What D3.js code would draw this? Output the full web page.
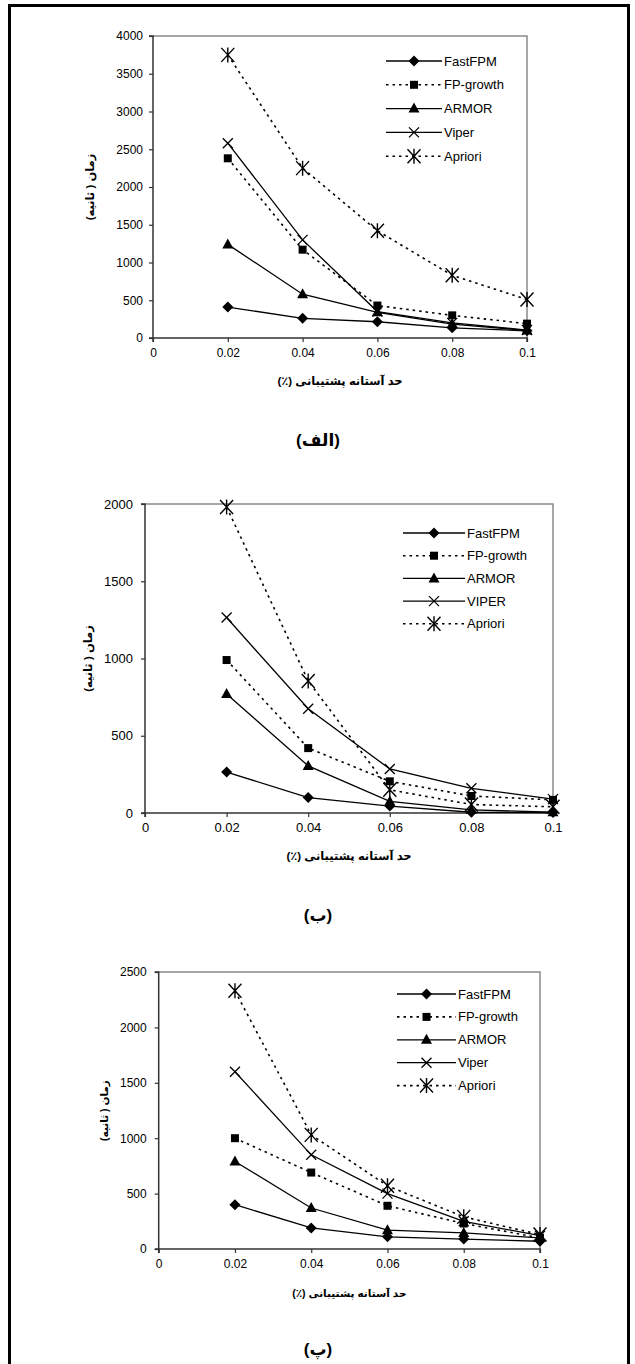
<!DOCTYPE html>
<html><head><meta charset="utf-8">
<script src="https://cdnjs.cloudflare.com/ajax/libs/d3/7.8.5/d3.min.js"></script>
<style>
html,body{margin:0;padding:0;background:#fff;}
svg{display:block;}
text{font-family:"Liberation Sans","DejaVu Sans",Arial,sans-serif;fill:#000;}
</style></head>
<body>
<svg id="chart" width="635" height="1364"></svg>
<script>
// ---- data ----
const xValues = [0.02, 0.04, 0.06, 0.08, 0.1];
const xTicks = [0, 0.02, 0.04, 0.06, 0.08, 0.1];
const xTickLabels = ["0", "0.02", "0.04", "0.06", "0.08", "0.1"];
const seriesNamesA = ["FastFPM", "FP-growth", "ARMOR", "Viper", "Apriori"];
const seriesNamesB = ["FastFPM", "FP-growth", "ARMOR", "VIPER", "Apriori"];
const seriesNamesC = ["FastFPM", "FP-growth", "ARMOR", "Viper", "Apriori"];

const fastfpmA = [410, 260, 215, 135, 95];
const fpgrowthA = [2380, 1170, 430, 300, 190];
const armorA = [1240, 580, 340, 185, 100];
const viperA = [2580, 1300, 350, 200, 105];
const aprioriA = [3750, 2250, 1420, 830, 510];
const yTicksA = [0, 500, 1000, 1500, 2000, 2500, 3000, 3500, 4000];

const fastfpmB = [265, 100, 45, 5, 3];
const fpgrowthB = [990, 420, 205, 110, 85];
const armorB = [770, 305, 75, 20, 5];
const viperB = [1265, 675, 285, 160, 90];
const aprioriB = [1980, 855, 150, 55, 40];
const yTicksB = [0, 500, 1000, 1500, 2000];

const fastfpmC = [400, 190, 110, 90, 70];
const fpgrowthC = [1000, 690, 390, 230, 100];
const armorC = [790, 370, 170, 145, 100];
const viperC = [1600, 850, 500, 250, 120];
const aprioriC = [2330, 1030, 570, 290, 130];
const yTicksC = [0, 500, 1000, 1500, 2000, 2500];

const yTitle = "زمان ( ثانیه)";
const xTitle = "حد آستانه پشتیبانی (٪)";
const captions = ["(الف)", "(ب)", "(پ)"];

// ---- styles per series (order: FastFPM, FP-growth, ARMOR, Viper, Apriori)
const seriesStyle = [
  {marker: "diamond", dash: null},
  {marker: "square", dash: "2.5,4"},
  {marker: "triangle", dash: null},
  {marker: "x", dash: null},
  {marker: "star", dash: "2.5,4"}
];

const svg = d3.select("#chart");

// outer frame
svg.append("path")
  .attr("d", "M9.5,1364V5.5H628.5V1364")
  .attr("fill", "none").attr("stroke", "#000").attr("stroke-width", 3);

function drawMarker(g, type, x, y) {
  if (type === "diamond") {
    g.append("path").attr("d", `M${x},${y-5.5}L${x+5.5},${y}L${x},${y+5.5}L${x-5.5},${y}Z`).attr("fill", "#000");
  } else if (type === "square") {
    g.append("rect").attr("x", x-4).attr("y", y-4).attr("width", 8).attr("height", 8).attr("fill", "#000");
  } else if (type === "triangle") {
    g.append("path").attr("d", `M${x},${y-6}L${x+5.5},${y+4}L${x-5.5},${y+4}Z`).attr("fill", "#000");
  } else if (type === "x") {
    g.append("path").attr("d", `M${x-5},${y-5}L${x+5},${y+5}M${x+5},${y-5}L${x-5},${y+5}`)
      .attr("stroke", "#000").attr("stroke-width", 1.3).attr("fill", "none");
  } else if (type === "star") {
    g.append("path").attr("d", `M${x-6.5},${y-7}L${x+6.5},${y+7}M${x+6.5},${y-7}L${x-6.5},${y+7}M${x},${y-7.5}L${x},${y+7.5}`)
      .attr("stroke", "#000").attr("stroke-width", 1.4).attr("fill", "none");
  }
}

function drawChart(cfg, series, names, yTicks, yMax, caption) {
  const g = svg.append("g");
  const x = d3.scaleLinear().domain([0, 0.1]).range([cfg.x0, cfg.x1]);
  const y = d3.scaleLinear().domain([0, yMax]).range([cfg.y0, cfg.y1]);

  // top & right frame lines (gray)
  g.append("path")
    .attr("d", `M${cfg.x0},${cfg.y1}H${cfg.x1}V${cfg.y0}`)
    .attr("fill", "none").attr("stroke", "#8a8a8a").attr("stroke-width", 1.5);

  // y axis
  const yAxis = d3.axisLeft(y).tickValues(yTicks).tickSize(4).tickPadding(cfg.yPad).tickFormat(d3.format("d"));
  const ya = g.append("g").attr("transform", `translate(${cfg.x0},0)`).call(yAxis);
  ya.select(".domain").attr("stroke", "#333").attr("stroke-width", 1.5).attr("d", `M-4,${cfg.y1}H0V${cfg.y0}H-4`);
  ya.selectAll(".tick line").attr("stroke", "#333").attr("stroke-width", 1.2);
  ya.selectAll(".tick text").attr("font-size", cfg.tickFont).attr("font-family", "Liberation Sans, Arial, sans-serif").attr("fill", "#000");

  // x axis
  const xAxis = d3.axisBottom(x).tickValues(xTicks).tickSize(4).tickPadding(cfg.xPad)
    .tickFormat((d, i) => xTickLabels[i]);
  const xa = g.append("g").attr("transform", `translate(0,${cfg.y0})`).call(xAxis);
  xa.select(".domain").attr("stroke", "#333").attr("stroke-width", 1.5).attr("d", `M${cfg.x0},4V0H${cfg.x1}V4`);
  xa.selectAll(".tick line").attr("stroke", "#333").attr("stroke-width", 1.2);
  xa.selectAll(".tick text").attr("font-size", cfg.tickFont).attr("font-family", "Liberation Sans, Arial, sans-serif").attr("fill", "#000");

  // lines
  const line = d3.line().x((d, i) => x(xValues[i])).y(d => y(d));
  series.forEach((vals, si) => {
    const st = seriesStyle[si];
    g.append("path").datum(vals).attr("d", line)
      .attr("fill", "none").attr("stroke", "#000")
      .attr("stroke-width", st.dash ? 1.6 : 1.3)
      .attr("stroke-dasharray", st.dash);
  });
  series.forEach((vals, si) => {
    const st = seriesStyle[si];
    vals.forEach((v, i) => drawMarker(g, st.marker, x(xValues[i]), y(v)));
  });

  // legend
  names.forEach((nm, i) => {
    const ly = cfg.legY + i * cfg.legStep;
    const st = seriesStyle[i];
    g.append("line").attr("x1", cfg.legX0).attr("x2", cfg.legX1).attr("y1", ly).attr("y2", ly)
      .attr("stroke", "#000").attr("stroke-width", st.dash ? 1.6 : 1.3).attr("stroke-dasharray", st.dash);
    drawMarker(g, st.marker, (cfg.legX0 + cfg.legX1) / 2, ly);
    g.append("text").attr("x", cfg.legX1 + 2).attr("y", ly).attr("dy", "0.35em")
      .attr("font-size", cfg.legFont).text(nm);
  });

  // y title
  g.append("text")
    .attr("transform", `translate(${cfg.yTitleX},${(cfg.y0 + cfg.y1) / 2}) rotate(-90)`)
    .attr("text-anchor", "middle").attr("dy", "0.35em")
    .attr("font-family", "DejaVu Sans, sans-serif").attr("font-weight", "bold")
    .attr("font-size", cfg.titleFont).attr("direction", "rtl").attr("unicode-bidi", "embed")
    .text(yTitle);

  // x title
  g.append("text")
    .attr("x", (cfg.x0 + cfg.x1) / 2).attr("y", cfg.xTitleY).attr("dy", "0.35em")
    .attr("text-anchor", "middle")
    .attr("font-family", "DejaVu Sans, sans-serif").attr("font-weight", "bold")
    .attr("font-size", cfg.titleFont).attr("direction", "rtl").attr("unicode-bidi", "embed")
    .text(xTitle);

  // caption
  g.append("text")
    .attr("x", 318).attr("y", cfg.capY).attr("dy", "0.35em")
    .attr("text-anchor", "middle")
    .attr("font-family", "DejaVu Sans, sans-serif").attr("font-weight", "bold")
    .attr("font-size", 17).attr("direction", "rtl").attr("unicode-bidi", "embed")
    .text(caption);
}

drawChart({x0: 153, x1: 527, y0: 338, y1: 36, yPad: 6, xPad: 6, tickFont: 12,
  legX0: 386, legX1: 442, legY: 61, legStep: 23.8, legFont: 13,
  yTitleX: 90, xTitleY: 381, titleFont: 11.5, capY: 440},
  [fastfpmA, fpgrowthA, armorA, viperA, aprioriA], seriesNamesA, yTicksA, 4000, captions[0]);

drawChart({x0: 145, x1: 553, y0: 813, y1: 504, yPad: 8, xPad: 6, tickFont: 13,
  legX0: 403, legX1: 465, legY: 533, legStep: 22.7, legFont: 13,
  yTitleX: 88, xTitleY: 856, titleFont: 11.5, capY: 915},
  [fastfpmB, fpgrowthB, armorB, viperB, aprioriB], seriesNamesB, yTicksB, 2000, captions[1]);

drawChart({x0: 158.7, x1: 540, y0: 1249, y1: 972, yPad: 8, xPad: 6, tickFont: 12,
  legX0: 397, legX1: 456, legY: 994, legStep: 22.9, legFont: 13,
  yTitleX: 104, xTitleY: 1293, titleFont: 10.5, capY: 1349},
  [fastfpmC, fpgrowthC, armorC, viperC, aprioriC], seriesNamesC, yTicksC, 2500, captions[2]);
</script>
</body></html>
